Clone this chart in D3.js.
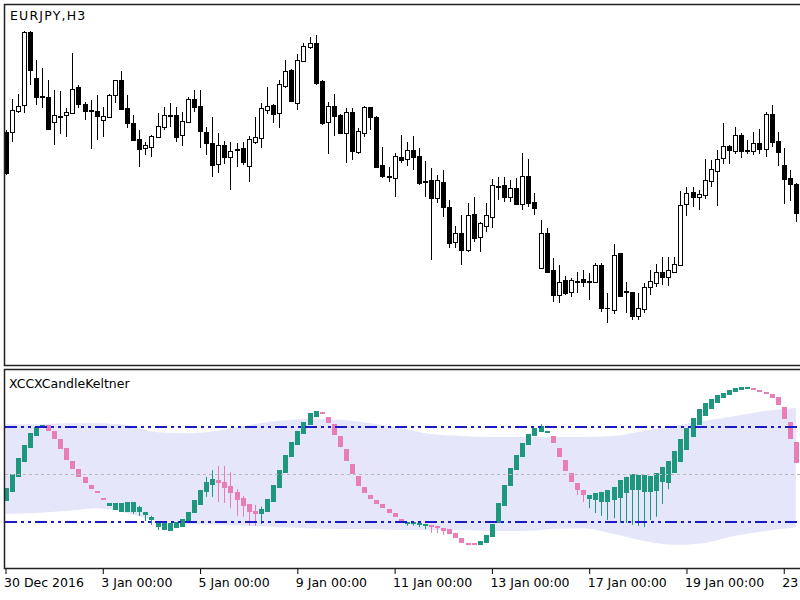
<!DOCTYPE html>
<html>
<head>
<meta charset="utf-8">
<script src="https://d3js.org/d3.v7.min.js"></script>
<style>
  body { margin: 0; background: #fff; }
  svg { display: block; font-family: "DejaVu Sans", sans-serif; }
</style>
</head>
<body>
<svg id="chart" width="800" height="600"></svg>
<script>
// ---- data: EURJPY H3 candles, bar index 0 = 30 Dec 2016 00:00 ----
var priceOpen = [
  123.68, 123.68, 123.89, 123.95, 124.68, 124.22, 124.04, 124.03, 123.78, 123.84,
  123.85, 123.87, 124.13, 123.96, 123.90, 123.89, 123.80, 123.83, 124.05, 124.20,
  123.92, 123.77, 123.61, 123.52, 123.53, 123.63, 123.73, 123.85, 123.85, 123.65,
  123.78, 124.01, 123.94, 123.68, 123.57, 123.36, 123.55, 123.43, 123.51, 123.52,
  123.34, 123.58, 123.62, 123.90, 123.95, 123.87, 124.14, 124.30, 123.97, 124.39,
  124.53, 124.57, 124.19, 123.78, 123.94, 123.85, 123.67, 123.88, 123.48, 123.67,
  123.93, 123.83, 123.35, 123.24, 123.22, 123.43, 123.41, 123.50, 123.44, 123.19,
  123.20, 123.02, 123.18, 122.93, 122.58, 122.67, 122.50, 122.86, 122.63, 122.74,
  122.83, 123.14, 123.15, 123.03, 123.12, 122.96, 123.24, 122.98, 122.32, 122.67,
  122.30, 122.05, 122.20, 122.08, 122.19, 122.21, 122.19, 122.18, 122.35, 121.92,
  121.90, 122.47, 122.09, 122.08, 121.84, 121.91, 122.13, 122.17, 122.28, 122.23,
  122.28, 122.35, 122.96, 123.08, 123.03, 123.05, 123.19, 123.29, 123.42, 123.54,
  123.49, 123.65, 123.50, 123.49, 123.57, 123.51, 123.86, 123.59, 123.35, 123.22,
  123.16];
var priceHigh = [
  123.70, 124.01, 124.06, 124.69, 124.69, 124.40, 124.32, 124.20, 124.10, 124.09,
  123.92, 124.47, 124.15, 123.98, 124.00, 124.05, 123.93, 124.06, 124.20, 124.29,
  124.05, 123.85, 123.70, 123.58, 123.65, 123.87, 123.93, 123.97, 123.93, 123.88,
  124.03, 124.10, 124.10, 123.73, 123.83, 123.67, 123.59, 123.58, 123.57, 123.58,
  123.64, 123.83, 123.97, 124.13, 123.96, 124.20, 124.40, 124.31, 124.46, 124.57,
  124.63, 124.65, 124.20, 123.98, 124.06, 123.86, 123.92, 123.92, 123.72, 123.94,
  123.93, 123.84, 123.53, 123.33, 123.47, 123.65, 123.58, 123.64, 123.52, 123.39,
  123.32, 123.25, 123.30, 123.00, 122.74, 122.85, 122.97, 123.03, 122.78, 122.97,
  123.21, 123.23, 123.23, 123.20, 123.22, 123.47, 123.41, 123.07, 122.80, 122.72,
  122.42, 122.35, 122.24, 122.22, 122.28, 122.30, 122.27, 122.37, 122.37, 122.07,
  122.56, 122.47, 122.18, 122.08, 122.07, 122.17, 122.30, 122.36, 122.43, 122.43,
  122.43, 123.09, 123.13, 123.13, 123.10, 123.41, 123.40, 123.50, 123.77, 123.55,
  123.73, 123.67, 123.60, 123.68, 123.71, 123.88, 123.95, 123.68, 123.52, 123.30,
  123.17];
var priceLow = [
  123.25, 123.58, 123.87, 123.87, 124.15, 123.95, 123.92, 123.70, 123.55, 123.66,
  123.63, 123.87, 123.92, 123.80, 123.51, 123.60, 123.63, 123.83, 123.97, 123.91,
  123.72, 123.60, 123.33, 123.45, 123.43, 123.63, 123.70, 123.73, 123.58, 123.54,
  123.77, 123.88, 123.52, 123.45, 123.23, 123.27, 123.36, 123.10, 123.33, 123.35,
  123.18, 123.56, 123.52, 123.86, 123.77, 123.72, 124.12, 123.99, 123.90, 124.39,
  124.51, 124.15, 123.75, 123.46, 123.64, 123.66, 123.37, 123.40, 123.46, 123.63,
  123.70, 123.32, 123.22, 123.18, 123.03, 123.37, 123.34, 123.30, 123.15, 123.03,
  122.40, 122.97, 122.83, 122.52, 122.52, 122.35, 122.48, 122.58, 122.48, 122.68,
  122.72, 123.00, 122.98, 122.98, 122.96, 122.90, 122.93, 122.85, 122.32, 122.27,
  121.98, 121.97, 122.05, 122.03, 122.07, 122.13, 122.00, 122.17, 121.88, 121.77,
  121.86, 122.03, 121.87, 121.80, 121.80, 121.87, 122.05, 122.13, 122.15, 122.14,
  122.27, 122.34, 122.84, 122.93, 122.90, 123.01, 123.13, 122.94, 123.36, 123.36,
  123.46, 123.42, 123.46, 123.45, 123.46, 123.43, 123.53, 123.34, 122.96, 122.99,
  122.78];
var priceClose = [
  123.27, 123.90, 123.94, 124.68, 124.30, 124.03, 124.03, 123.71, 123.85, 123.83,
  123.88, 124.11, 123.96, 123.89, 123.89, 123.84, 123.84, 124.05, 124.20, 123.91,
  123.77, 123.60, 123.51, 123.55, 123.64, 123.74, 123.85, 123.84, 123.63, 123.79,
  124.01, 123.93, 123.69, 123.57, 123.35, 123.55, 123.43, 123.49, 123.50, 123.38,
  123.61, 123.63, 123.92, 123.94, 123.86, 124.16, 124.29, 123.99, 124.40, 124.54,
  124.57, 124.17, 123.77, 123.94, 123.84, 123.67, 123.88, 123.49, 123.69, 123.93,
  123.83, 123.33, 123.24, 123.23, 123.44, 123.40, 123.50, 123.43, 123.17, 123.18,
  123.02, 123.20, 122.93, 122.57, 122.67, 122.50, 122.85, 122.62, 122.77, 122.85,
  123.15, 123.13, 123.03, 123.12, 122.96, 123.24, 122.97, 122.92, 122.67, 122.28,
  122.05, 122.18, 122.07, 122.20, 122.18, 122.18, 122.18, 122.35, 121.92, 121.92,
  122.45, 122.04, 122.08, 121.84, 121.92, 122.13, 122.19, 122.28, 122.23, 122.30,
  122.36, 122.95, 123.07, 123.03, 123.06, 123.20, 123.31, 123.41, 123.54, 123.50,
  123.65, 123.49, 123.49, 123.57, 123.51, 123.86, 123.58, 123.48, 123.21, 123.16,
  122.87];

// ---- XCCXCandleKeltner: CCI of the candle prices, drawn as candles ----
var cciOpen = [
  -56, -37, -5, 26, 56, 81, 100, 104, 92, 75,
  56, 28, 12, -5, -22, -35, -49, -66, -75, -79,
  -79, -79, -79, -85, -96, -111, -117, -119, -113, -111,
  -102, -81, -64, -37, -22, -12, -16, -24, -37, -49,
  -62, -77, -83, -79, -58, -28, 3, 37, 62, 85,
  104, 121, 132, 121, 106, 81, 54, 22, -3, -26,
  -43, -54, -62, -73, -81, -94, -104, -104, -106, -108,
  -106, -108, -113, -115, -123, -134, -144, -144, -148, -144,
  -132, -102, -66, -24, 9, 37, 62, 81, 89, 87,
  81, 56, 31, 3, -18, -33, -52, -54, -58, -58,
  -54, -49, -39, -33, -33, -37, -37, -35, -16, -18,
  3, 26, 52, 79, 104, 123, 138, 151, 161, 167,
  174, 178, 180, 182, 178, 174, 169, 163, 142, 111,
  68];
var cciHigh = [
  -28, 1, 35, 62, 87, 100, 104, 104, 92, 75,
  56, 28, 12, -5, -22, -35, -49, -60, -60, -60,
  -58, -58, -66, -79, -87, -100, -102, -102, -100, -94,
  -79, -54, -33, -5, 9, 18, 18, 5, -31, -45,
  -62, -64, -68, -52, -22, 9, 41, 68, 92, 111,
  129, 134, 132, 121, 106, 81, 54, 22, -3, -26,
  -43, -54, -62, -73, -81, -94, -100, -100, -102, -104,
  -106, -108, -113, -115, -123, -134, -144, -144, -140, -127,
  -104, -60, -22, 14, 41, 66, 85, 98, 106, 92,
  81, 56, 31, 3, -18, -33, -43, -39, -37, -33,
  -26, -12, -5, 1, -1, -1, -3, 3, 16, 28,
  49, 75, 98, 119, 138, 151, 159, 167, 172, 178,
  182, 184, 184, 182, 178, 174, 169, 163, 142, 111,
  68];
var cciLow = [
  -56, -37, -5, 26, 56, 81, 100, 92, 75, 54,
  31, 12, -5, -18, -31, -39, -54, -66, -75, -79,
  -79, -83, -87, -98, -106, -117, -117, -119, -113, -111,
  -102, -81, -64, -47, -47, -58, -60, -71, -87, -89,
  -108, -108, -104, -79, -58, -28, 3, 37, 62, 85,
  104, 121, 127, 108, 83, 58, 28, 1, -24, -39,
  -52, -62, -71, -81, -89, -102, -108, -108, -111, -115,
  -123, -123, -127, -125, -134, -144, -148, -148, -148, -144,
  -132, -102, -66, -24, 9, 37, 62, 81, 89, 87,
  66, 37, 7, -16, -43, -58, -71, -81, -87, -96,
  -92, -102, -102, -106, -108, -111, -96, -89, -62, -31,
  3, 26, 52, 79, 104, 123, 138, 151, 161, 167,
  174, 178, 180, 178, 174, 169, 161, 146, 117, 75,
  24];
var cciClose = [
  -28, 1, 35, 62, 87, 100, 104, 92, 75, 54,
  31, 12, -5, -18, -31, -39, -54, -60, -60, -60,
  -58, -58, -68, -79, -89, -102, -102, -102, -100, -94,
  -79, -54, -33, -16, -9, -18, -28, -39, -54, -66,
  -79, -83, -73, -52, -22, 9, 41, 68, 92, 111,
  129, 134, 127, 108, 83, 58, 28, 1, -24, -39,
  -52, -62, -71, -81, -89, -102, -100, -100, -102, -104,
  -111, -113, -119, -125, -134, -144, -148, -148, -140, -127,
  -104, -60, -22, 14, 41, 66, 85, 98, 102, 92,
  66, 37, 7, -16, -33, -43, -43, -39, -37, -33,
  -26, -12, -5, 1, -1, -1, -3, 3, 16, 28,
  49, 75, 98, 119, 138, 151, 159, 167, 172, 178,
  182, 184, 184, 178, 174, 169, 161, 146, 117, 75,
  24];

// Keltner envelope, read every 5 bars
var bandBars  = [0, 5, 10, 15, 20, 25, 30, 35, 40, 45, 50, 55, 60, 65, 70, 75, 80, 85, 90, 95, 100, 105, 110, 115, 120, 125, 130];
var bandUpper = [106, 106, 108, 108, 104, 89, 87, 92, 104, 113, 117, 115, 108, 98, 85, 81, 79, 79, 79, 79, 81, 92, 102, 113, 123, 134, 140];
var bandLower = [-83, -81, -77, -71, -81, -98, -104, -106, -108, -111, -113, -115, -115, -117, -117, -117, -119, -119, -115, -113, -125, -140, -148, -144, -129, -119, -111];

var levels = [100, -100];

var tickBars   = [0, 16, 32, 48, 64, 80, 96, 112, 128];
var tickLabels = ["30 Dec 2016", "3 Jan 00:00", "5 Jan 00:00", "9 Jan 00:00", "11 Jan 00:00",
                  "13 Jan 00:00", "17 Jan 00:00", "19 Jan 00:00", "23 Jan 00:00"];

// ---- layout ----
var svg = d3.select("#chart");
var width = +svg.attr("width");

var upColor = "#1e977e";
var downColor = "#e97db5";

var barScale = d3.scaleLinear().domain([0, 130]).range([5.5, 5.5 + 6.08 * 130]);
var priceScale = d3.scaleLinear().domain([121.34, 124.96]).range([366, 4]);
var cciScale = d3.scaleLinear().domain([-199, 221]).range([569, 369.5]);

var defs = svg.append("defs");
defs.append("clipPath").attr("id", "clipTop")
  .append("rect").attr("x", 5).attr("y", 5).attr("width", width).attr("height", 360);
defs.append("clipPath").attr("id", "clipSub")
  .append("rect").attr("x", 5).attr("y", 370).attr("width", width).attr("height", 198);

function plotPriceCandles(g) {
  priceOpen.forEach(function (o, i) {
    var c = priceClose[i];
    var cx = Math.round(barScale(i)) + 0.5;
    g.append("line")
      .attr("x1", cx).attr("x2", cx)
      .attr("y1", priceScale(priceHigh[i])).attr("y2", priceScale(priceLow[i]))
      .attr("stroke", "#000");
    var yTop = Math.round(priceScale(Math.max(o, c))) + 0.5;
    var yBot = Math.round(priceScale(Math.min(o, c))) + 0.5;
    if (yBot - yTop < 1) {
      //doji: flat bar
      g.append("line")
        .attr("x1", cx - 2.5).attr("x2", cx + 2.5)
        .attr("y1", yTop).attr("y2", yTop)
        .attr("stroke", "#000");
    } else {
      g.append("rect")
        .attr("x", cx - 2).attr("y", yTop)
        .attr("width", 4).attr("height", yBot - yTop)
        .attr("fill", c > o ? "#fff" : "#000")
        .attr("stroke", "#000");
    }
  });
}

function plotBand(g) {
  var area = d3.area()
    .x(function (d, i) { return barScale(bandBars[i]); })
    .y0(function (d, i) { return cciScale(bandLower[i]); })
    .y1(function (d, i) { return cciScale(bandUpper[i]); })
    .curve(d3.curveMonotoneX);
  g.append("path")
    .datum(bandBars)
    .attr("d", area)
    .attr("fill", "#e6e6fa");
}

function plotCciCandles(g) {
  cciOpen.forEach(function (o, i) {
    var c = cciClose[i];
    var color = c >= o ? upColor : downColor;
    var cx = Math.round(barScale(i)) + 0.5;
    if (cciHigh[i] > Math.max(o, c) || cciLow[i] < Math.min(o, c)) {
      g.append("line")
        .attr("x1", cx).attr("x2", cx)
        .attr("y1", cciScale(cciHigh[i])).attr("y2", cciScale(cciLow[i]))
        .attr("stroke", color);
    }
    var yTop = cciScale(Math.max(o, c));
    var h = Math.max(2, cciScale(Math.min(o, c)) - yTop);
    g.append("rect")
      .attr("x", cx - 2.5).attr("y", Math.round(yTop))
      .attr("width", 5).attr("height", Math.round(h))
      .attr("fill", color);
  });
}

function plotLevels(g) {
  g.append("line")
    .attr("x1", 5).attr("x2", width)
    .attr("y1", Math.round(cciScale(0)) + 0.5).attr("y2", Math.round(cciScale(0)) + 0.5)
    .attr("stroke", "#b9b9b9")
    .attr("stroke-dasharray", "3,3");
  levels.forEach(function (lv) {
    g.append("line")
      .attr("x1", 5).attr("x2", width)
      .attr("y1", Math.round(cciScale(lv))).attr("y2", Math.round(cciScale(lv)))
      .attr("stroke", "#1a1ac8")
      .attr("stroke-width", 2)
      .attr("stroke-dasharray", "12,4,3,4,3,4");
  });
}

function plotFrames() {
  svg.append("rect")
    .attr("x", 4.5).attr("y", 4.5).attr("width", width + 10).attr("height", 361)
    .attr("fill", "none").attr("stroke", "#222").attr("stroke-width", 1.5);
  svg.append("rect")
    .attr("x", 4.5).attr("y", 369.5).attr("width", width + 10).attr("height", 199)
    .attr("fill", "none").attr("stroke", "#222").attr("stroke-width", 1.5);

  svg.append("text")
    .attr("x", 10).attr("y", 20)
    .attr("font-size", 12.5)
    .attr("letter-spacing", 1.2)
    .text("EURJPY,H3");
  svg.append("text")
    .attr("x", 9).attr("y", 388)
    .attr("font-size", 12.5)
    .text("XCCXCandleKeltner");
}

function plotAxis() {
  var bottomAxis = d3.axisBottom(barScale)
    .tickValues(tickBars)
    .tickFormat(function (d, i) { return tickLabels[i]; })
    .tickSize(5)
    .tickSizeOuter(0);
  var g = svg.append("g")
    .attr("transform", "translate(0,569)")
    .call(bottomAxis);
  g.attr("font-size", 12.5).attr("font-family", "DejaVu Sans, sans-serif");
  g.select(".domain").remove();
  g.selectAll(".tick line").attr("stroke", "#000");
  g.selectAll(".tick text")
    .attr("text-anchor", "start")
    .attr("x", -2)
    .attr("y", 9)
    .attr("fill", "#000");
}

var topG = svg.append("g").attr("clip-path", "url(#clipTop)");
plotPriceCandles(topG);

var subG = svg.append("g").attr("clip-path", "url(#clipSub)");
plotBand(subG);
plotCciCandles(subG);
plotLevels(subG);

plotFrames();
plotAxis();
</script>
</body>
</html>
